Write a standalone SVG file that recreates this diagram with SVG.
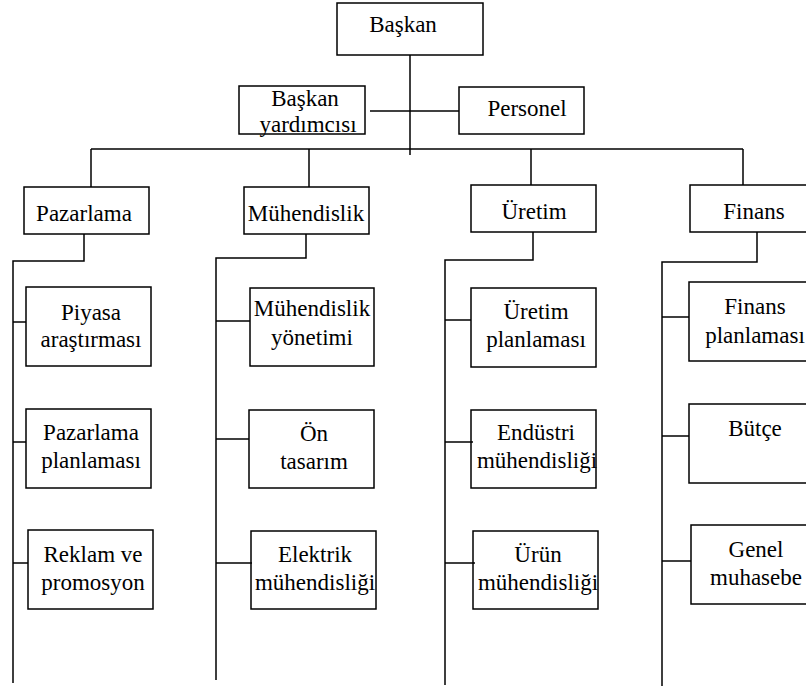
<svg xmlns="http://www.w3.org/2000/svg" width="806" height="688" viewBox="0 0 806 688">
  <style>
    .box { fill: #ffffff; stroke: #000000; stroke-width: 1.5; }
    .ln { fill: none; stroke: #000000; stroke-width: 1.5; }
    text { font-family: 'Times New Roman', Times, 'Nimbus Roman', 'Liberation Serif', serif; font-size: 23px; fill: #000000; text-anchor: middle; }
  </style>

  <!-- connectors -->
  <g id="connectors">
    <!-- president trunk and staff link -->
    <path class="ln" d="M410 55 V155"/>
    <path class="ln" d="M370 111 H459"/>
    <!-- department bus -->
    <path class="ln" d="M91 149 H743"/>
    <path class="ln" d="M91 149 V187"/>
    <path class="ln" d="M309 149 V187"/>
    <path class="ln" d="M531 149 V185"/>
    <path class="ln" d="M743 149 V185"/>
    <!-- Pazarlama column -->
    <path class="ln" d="M84 234 V261 H13 V683"/>
    <path class="ln" d="M13 322 H27"/>
    <path class="ln" d="M13 442 H29"/>
    <path class="ln" d="M13 563 H32"/>
    <!-- Mühendislik column -->
    <path class="ln" d="M306 234 V258 H216 V680"/>
    <path class="ln" d="M216 321 H252"/>
    <path class="ln" d="M216 439 H254"/>
    <path class="ln" d="M216 563 H252"/>
    <!-- Üretim column -->
    <path class="ln" d="M533 232 V260 H445 V685"/>
    <path class="ln" d="M445 320 H473"/>
    <path class="ln" d="M445 442 H473"/>
    <path class="ln" d="M445 563 H475"/>
    <!-- Finans column -->
    <path class="ln" d="M757 232 V262 H662 V686"/>
    <path class="ln" d="M662 317 H693"/>
    <path class="ln" d="M662 436 H690"/>
    <path class="ln" d="M662 561 H693"/>
  </g>

  <!-- top level -->
  <g id="baskan">
    <rect class="box" x="337" y="3" width="146" height="52"/>
    <text x="403" y="32">Başkan</text>
  </g>
  <g id="baskan-yardimcisi">
    <rect class="box" x="239" y="86" width="126" height="48"/>
    <text x="305" y="106">Başkan</text>
    <text x="308" y="132">yardımcısı</text>
  </g>
  <g id="personel">
    <rect class="box" x="459" y="87" width="125" height="47"/>
    <text x="527" y="116">Personel</text>
  </g>

  <!-- departments -->
  <g id="pazarlama">
    <rect class="box" x="24" y="187" width="125" height="47"/>
    <text x="84" y="221">Pazarlama</text>
  </g>
  <g id="muhendislik">
    <rect class="box" x="244" y="187" width="125" height="47"/>
    <text x="306" y="221">Mühendislik</text>
  </g>
  <g id="uretim">
    <rect class="box" x="471" y="185" width="125" height="47"/>
    <text x="534" y="219">Üretim</text>
  </g>
  <g id="finans">
    <rect class="box" x="690" y="185" width="125" height="47"/>
    <text x="754" y="219">Finans</text>
  </g>

  <!-- Pazarlama units -->
  <g id="piyasa-arastirmasi">
    <rect class="box" x="26" y="287" width="125" height="79"/>
    <text x="91" y="320">Piyasa</text>
    <text x="91" y="347">araştırması</text>
  </g>
  <g id="pazarlama-planlamasi">
    <rect class="box" x="26" y="409" width="125" height="79"/>
    <text x="91" y="440">Pazarlama</text>
    <text x="91" y="468">planlaması</text>
  </g>
  <g id="reklam-promosyon">
    <rect class="box" x="28" y="530" width="125" height="79"/>
    <text x="93" y="562">Reklam ve</text>
    <text x="93" y="590">promosyon</text>
  </g>

  <!-- Mühendislik units -->
  <g id="muhendislik-yonetimi">
    <rect class="box" x="250" y="288" width="124" height="78"/>
    <text x="312" y="316">Mühendislik</text>
    <text x="312" y="345">yönetimi</text>
  </g>
  <g id="on-tasarim">
    <rect class="box" x="249" y="410" width="125" height="78"/>
    <text x="314" y="441">Ön</text>
    <text x="314" y="469">tasarım</text>
  </g>
  <g id="elektrik-muhendisligi">
    <text x="315" y="562">Elektrik</text>
    <text x="315" y="590">mühendisliği</text>
    <rect class="box" x="251" y="531" width="125" height="78" style="fill:none"/>
  </g>

  <!-- Üretim units -->
  <g id="uretim-planlamasi">
    <rect class="box" x="471" y="288" width="125" height="79"/>
    <text x="536" y="319">Üretim</text>
    <text x="536" y="347">planlaması</text>
  </g>
  <g id="endustri-muhendisligi">
    <text x="536" y="440">Endüstri</text>
    <text x="537" y="468">mühendisliği</text>
    <rect class="box" x="471" y="410" width="125" height="78" style="fill:none"/>
  </g>
  <g id="urun-muhendisligi">
    <text x="538" y="562">Ürün</text>
    <text x="538" y="590">mühendisliği</text>
    <rect class="box" x="473" y="531" width="125" height="78" style="fill:none"/>
  </g>

  <!-- Finans units -->
  <g id="finans-planlamasi">
    <rect class="box" x="689" y="282" width="125" height="79"/>
    <text x="755" y="314">Finans</text>
    <text x="755" y="343">planlaması</text>
  </g>
  <g id="butce">
    <rect class="box" x="689" y="404" width="125" height="79"/>
    <text x="755" y="436">Bütçe</text>
  </g>
  <g id="genel-muhasebe">
    <rect class="box" x="691" y="525" width="125" height="79"/>
    <text x="756" y="557">Genel</text>
    <text x="756" y="585">muhasebe</text>
  </g>
</svg>
